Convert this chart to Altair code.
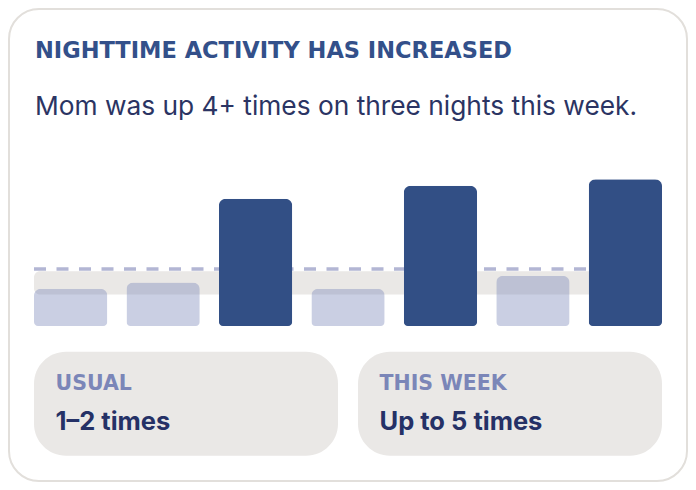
import altair as alt
import pandas as pd

# one bar per night, how many times Mom was up
nights = ["Mon", "Tue", "Wed", "Thu", "Fri", "Sat", "Sun"]
wakeups = [1.27, 1.48, 4.34, 1.27, 4.78, 1.71, 5.0]

# usual range and usual level
usual_low = [1.07]
usual_high = [1.87]
usual_level = [1.94]

title_text = ["NIGHTTIME ACTIVITY HAS INCREASED"]
subtitle_text = ["Mom was up 4+ times on three nights this week."]
box_labels = ["USUAL", "THIS WEEK"]
box_values = ["1–2 times", "Up to 5 times"]

NAVY = "#324f85"
LAVENDER = "#7b86b8"
STONE = "#eae8e6"

bars_df = pd.DataFrame({"night": nights, "wakeups": wakeups})
usual_df = pd.DataFrame({"lo": usual_low, "hi": usual_high, "level": usual_level})
one = pd.DataFrame({"a": [0]})

x_enc = alt.X("night:N", sort=nights, axis=None,
    scale=alt.Scale(range=[26, 654], paddingInner=0.207, paddingOuter=0))
y_scale = alt.Scale(domain=[0, 5], range=[318, 171.3])

card = alt.Chart(one).mark_rect(cornerRadius=30, fill="white", stroke="#e2dfdb", strokeWidth=2).encode(
    x=alt.value(1), x2=alt.value(679), y=alt.value(1), y2=alt.value(473))

boxes = []
for i, (lab, val) in enumerate(zip(box_labels, box_values)):
    x0 = 26 + i * 324
    boxes.append(alt.Chart(one).mark_rect(cornerRadius=32, fill=STONE).encode(
        x=alt.value(x0), x2=alt.value(x0 + 304), y=alt.value(343.7), y2=alt.value(447.7)))
    boxes.append(alt.Chart(pd.DataFrame({"t": [lab]})).mark_text(align="left", baseline="alphabetic",
        font="DejaVu Sans", fontWeight="bold", fontSize=20.5, color=LAVENDER).encode(
        x=alt.value(x0 + 21.5), y=alt.value(382), text="t:N"))
    boxes.append(alt.Chart(pd.DataFrame({"t": [val]})).mark_text(align="left", baseline="alphabetic",
        font="Inter", fontWeight="bold", fontSize=25.5, color="#253166").encode(
        x=alt.value(x0 + 21.5), y=alt.value(422), text="t:N"))

band = alt.Chart(usual_df).mark_rect(cornerRadius=6, color=STONE).encode(
    x=alt.value(26), x2=alt.value(654),
    y=alt.Y("lo:Q", scale=y_scale, axis=None), y2="hi:Q")

level = alt.Chart(usual_df).mark_rule(strokeDash=[12, 10.5], strokeWidth=3.5, color="#b3b6d4").encode(
    x=alt.value(26), x2=alt.value(654), y=alt.Y("level:Q", scale=y_scale, axis=None))

bars = alt.Chart(bars_df).mark_bar(cornerRadiusTopLeft=7, cornerRadiusTopRight=7,
    cornerRadiusBottomLeft=4, cornerRadiusBottomRight=4).encode(
    x=x_enc, y=alt.Y("wakeups:Q", scale=y_scale, axis=None),
    color=alt.condition("datum.wakeups >= 4", alt.value(NAVY), alt.value(LAVENDER)),
    opacity=alt.condition("datum.wakeups >= 4", alt.value(1.0), alt.value(0.4)))

title = alt.Chart(pd.DataFrame({"t": title_text})).mark_text(align="left", baseline="alphabetic",
    font="DejaVu Sans", fontWeight="bold", fontSize=22.5, color="#33508a").encode(
    x=alt.value(27), y=alt.value(50.3), text="t:N")

subtitle = alt.Chart(pd.DataFrame({"t": subtitle_text})).mark_text(align="left", baseline="alphabetic",
    font="Inter", fontSize=26.3, color="#2b3463").encode(
    x=alt.value(27), y=alt.value(107), text="t:N")

chart = alt.layer(card, *boxes, band, level, bars, title, subtitle).properties(
    width=680, height=474, padding=0, autosize=alt.AutoSizeParams(type="none"),
    background="white").configure_view(strokeWidth=0)

chart.save("out.html", embed_options={"renderer": "svg", "actions": False})
